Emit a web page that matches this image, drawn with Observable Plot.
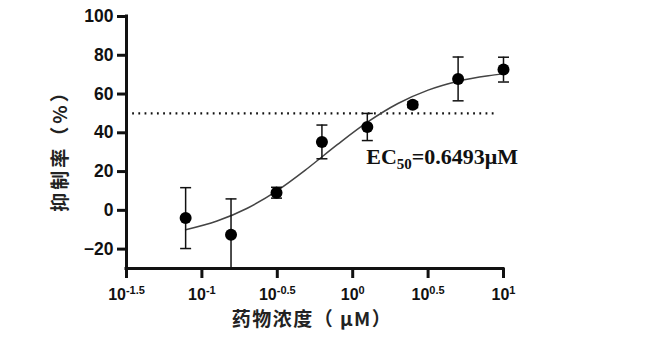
<!DOCTYPE html>
<html>
<head>
<meta charset="utf-8">
<script src="https://cdn.jsdelivr.net/npm/d3@7"></script>
<script src="https://cdn.jsdelivr.net/npm/@observablehq/plot@0.6"></script>
<style>
  html, body { margin: 0; padding: 0; background: #fff; }
  #chart { width: 659px; height: 355px; }
</style>
</head>
<body>
<div id="chart"></div>
<script>
// ---- data ----
const concentration = [0.078, 0.156, 0.3125, 0.625, 1.25, 2.5, 5, 10];      // μM
const inhibition    = [-4.0, -12.6, 9.1, 35.3, 43.0, 54.5, 67.8, 72.6];     // %
const errorSD       = [15.7, 18.5, 2.8, 8.7, 7.0, 1.5, 11.3, 6.4];

const fitConcentration = [0.078, 0.126, 0.2, 0.316, 0.501, 0.794, 1.259, 1.995, 3.162, 5.012, 7.943, 10];
const fitInhibition    = [-10.0, -5.5, 1.1, 10.2, 21.6, 34.0, 45.6, 55.1, 62.0, 66.6, 69.4, 70.4];

const refLineY = [50];
const refLineXRange = [0.0316, 9.1];

const xTickExponents = ["-1.5", "-1", "-0.5", "0", "0.5", "1"];
const yTicks = [-20, 0, 20, 40, 60, 80, 100];
const xDomain = [10 ** -1.5, 10];
const yDomain = [-30, 100];

const xLabel = "药物浓度（ μM）";
const yLabel = "抑制率（%）";
const ec50Main = "EC";
const ec50Sub = "50";
const ec50Rest = "=0.6493μM";
const ec50Pos = {x: 1.23, y: 24};

// ---- build tables ----
const xTicks = xTickExponents.map(e => 10 ** (+e));
const points = concentration.map((c, i) => ({
  x: c, y: inhibition[i], lo: inhibition[i] - errorSD[i], hi: inhibition[i] + errorSD[i]
}));
const lowerCaps = points.filter(d => d.lo >= yDomain[0]);
const fit = fitConcentration.map((c, i) => ({x: c, y: fitInhibition[i]}));
const refLine = refLineY.map(y => ({y, x1: refLineXRange[0], x2: refLineXRange[1]}));

const capSymbol = {
  draw(ctx, size) {
    const w = Math.sqrt(size / Math.PI);
    ctx.moveTo(-w, 0);
    ctx.lineTo(w, 0);
  }
};

const tickFmt = d => {
  const i = xTicks.findIndex(t => Math.abs(t - d) / t < 1e-6);
  return "10^" + (i >= 0 ? xTickExponents[i] : d3.format(".1f")(Math.log10(d)));
};

const sansBold = "'Liberation Sans', Arial, sans-serif";
const cjk = "'Noto Sans CJK SC', sans-serif";

const plot = Plot.plot({
  width: 659,
  height: 355,
  marginLeft: 126,
  marginRight: 156,
  marginTop: 16,
  marginBottom: 87,
  style: {fontFamily: sansBold, color: "#111", background: "#fff", overflow: "visible"},
  x: {type: "log", domain: xDomain},
  y: {domain: yDomain},
  marks: [
    // axes lines
    Plot.ruleX([xDomain[0]], {stroke: "#111", strokeWidth: 3, strokeLinecap: "square"}),
    Plot.ruleY([yDomain[0]], {stroke: "#111", strokeWidth: 3, strokeLinecap: "square"}),
    Plot.axisY({ticks: yTicks, tickSize: 9, tickPadding: 4, strokeWidth: 3, stroke: "#111",
      fontSize: 17.5, fontWeight: "bold", fill: "#111", label: null}),
    Plot.axisX({ticks: xTicks, tickSize: 10, tickPadding: 10, strokeWidth: 3, stroke: "#111",
      fontSize: 16, fontWeight: "bold", fill: "#111", tickFormat: tickFmt, label: null}),
    // reference line at 50%
    Plot.ruleY(refLine, {y: "y", x1: "x1", x2: "x2", stroke: "#111", strokeWidth: 2.2,
      strokeDasharray: "1.8,4.4"}),
    // fitted curve
    Plot.line(fit, {x: "x", y: "y", curve: "monotone-x", stroke: "#444", strokeWidth: 1.5}),
    // error bars
    Plot.ruleX(points, {x: "x", y1: d => Math.max(d.lo, yDomain[0]), y2: "hi", stroke: "#111", strokeWidth: 1.5}),
    Plot.dot(points, {x: "x", y: "hi", symbol: capSymbol, r: 5.5, stroke: "#111", strokeWidth: 1.5, fill: "none"}),
    Plot.dot(lowerCaps, {x: "x", y: "lo", symbol: capSymbol, r: 5.5, stroke: "#111", strokeWidth: 1.5, fill: "none"}),
    // points
    Plot.dot(points, {x: "x", y: "y", r: 6, fill: "#000", stroke: "none"}),
    // EC50 annotation
    Plot.text([ec50Main + ec50Sub + ec50Rest], {x: () => ec50Pos.x, y: () => ec50Pos.y,
      textAnchor: "start", lineAnchor: "bottom", fontSize: 22, fontWeight: "bold",
      fontFamily: "'Liberation Serif', 'Times New Roman', serif", fill: "#111"}),
    // axis titles
    Plot.text([xLabel], {frameAnchor: "bottom", textAnchor: "middle", dy: 57, dx: -3, fontSize: 19,
      fontWeight: "bold", fontFamily: cjk, fill: "#222"}),
    Plot.text([yLabel], {frameAnchor: "left", textAnchor: "middle", dx: -66, dy: 3.5, rotate: -90,
      fontSize: 19, fontWeight: "bold", fontFamily: cjk, fill: "#222"})
  ]
});

document.getElementById("chart").appendChild(plot);

// superscript exponents on x tick labels
const svg = d3.select(plot);
svg.selectAll('g[aria-label="x-axis tick label"] text').each(function () {
  const t = this.textContent;
  if (!t.startsWith("10^")) return;
  const exp = t.slice(3);
  const sel = d3.select(this);
  sel.text(null);
  sel.append("tspan").text("10");
  sel.append("tspan").attr("dy", "-6").attr("font-size", "11px").text(exp);
});

// subscript on EC50, spacing on axis titles
svg.selectAll('g[aria-label="text"] text').each(function () {
  const t = this.textContent;
  const sel = d3.select(this);
  if (t === xLabel) sel.attr("letter-spacing", "1.5px");
  if (t === yLabel) sel.attr("letter-spacing", "3px");
  if (t !== ec50Main + ec50Sub + ec50Rest) return;
  sel.text(null);
  sel.append("tspan").text(ec50Main);
  sel.append("tspan").attr("dy", "5").attr("font-size", "15px").text(ec50Sub);
  sel.append("tspan").attr("dy", "-5").text(ec50Rest);
});
</script>
</body>
</html>
